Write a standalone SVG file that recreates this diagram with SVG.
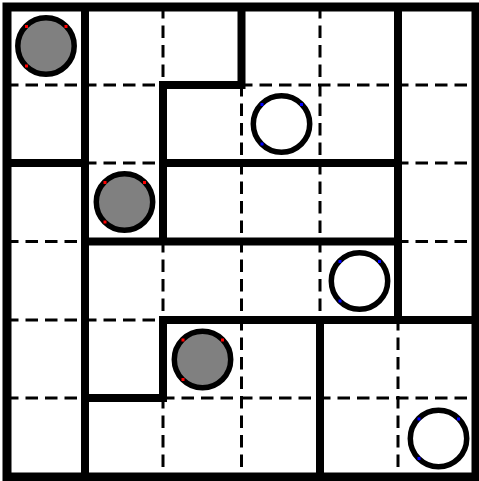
<svg xmlns="http://www.w3.org/2000/svg" width="479" height="481" viewBox="0 0 479 481">
<style>
.bg{fill:#ffffff}
.dash{stroke:#000;stroke-width:3;stroke-dasharray:12.5 7;fill:none}
.wall{stroke:#000;stroke-width:8;stroke-linecap:square;fill:none}
.border{stroke:#000;stroke-width:9;fill:none}
.stone{stroke:#000;stroke-width:5.5}
.black{fill:#808080}
.white{fill:#ffffff}
.r{fill:#ff0000}
.b{fill:#0000ff}
</style>
<rect class="bg" x="0" y="0" width="479" height="481"/>
<g id="grid-dashed">
<path class="dash" stroke-dashoffset="1" d="M85 7V476M163 7V476M241.5 7V476M320 7V476M398 7V476"/>
<path class="dash" stroke-dashoffset="1" d="M7 85H476M7 163H476M7 241.5H476M7 320H476M7 398H476"/>
</g>
<g id="walls">
<rect class="border" x="7" y="7" width="469" height="470"/>
<path class="wall" d="M85 7V476M7 163H85M241.5 7V85M163 85H241.5M163 85V241.5M163 163H398M398 7V320M85 241.5H398M163 320H476M163 320V398M85 398H163M320 320V477"/>
</g>
<g id="stone-r0c0">
<circle class="stone black" cx="46" cy="46" r="28.2"/>
<rect class="r" x="25" y="25" width="3" height="3"/><rect class="r" x="64.5" y="25" width="3" height="3"/><rect class="r" x="25" y="64.5" width="3" height="3"/>
</g>
<g id="stone-r2c1">
<circle class="stone black" cx="124.5" cy="202" r="28.2"/>
<rect class="r" x="103.5" y="181" width="3" height="3"/><rect class="r" x="143" y="181" width="3" height="3"/><rect class="r" x="103.5" y="220.5" width="3" height="3"/>
</g>
<g id="stone-r4c2">
<circle class="stone black" cx="202.5" cy="359.5" r="28.2"/>
<rect class="r" x="181.5" y="338.5" width="3" height="3"/><rect class="r" x="221" y="338.5" width="3" height="3"/><rect class="r" x="181.5" y="378" width="3" height="3"/>
</g>
<g id="stone-r1c3">
<circle class="stone white" cx="281.5" cy="124" r="28.2"/>
<rect class="b" x="260.5" y="103" width="3" height="3"/><rect class="b" x="300" y="103" width="3" height="3"/><rect class="b" x="260.5" y="142.5" width="3" height="3"/>
</g>
<g id="stone-r3c4">
<circle class="stone white" cx="359.5" cy="281" r="28.2"/>
<rect class="b" x="338.5" y="260" width="3" height="3"/><rect class="b" x="378" y="260" width="3" height="3"/><rect class="b" x="338.5" y="299.5" width="3" height="3"/>
</g>
<g id="stone-r5c5">
<circle class="stone white" cx="438.5" cy="438.5" r="28.2"/>
<rect class="b" x="417.5" y="417.5" width="3" height="3"/><rect class="b" x="457" y="417.5" width="3" height="3"/><rect class="b" x="417.5" y="457" width="3" height="3"/>
</g>
</svg>
